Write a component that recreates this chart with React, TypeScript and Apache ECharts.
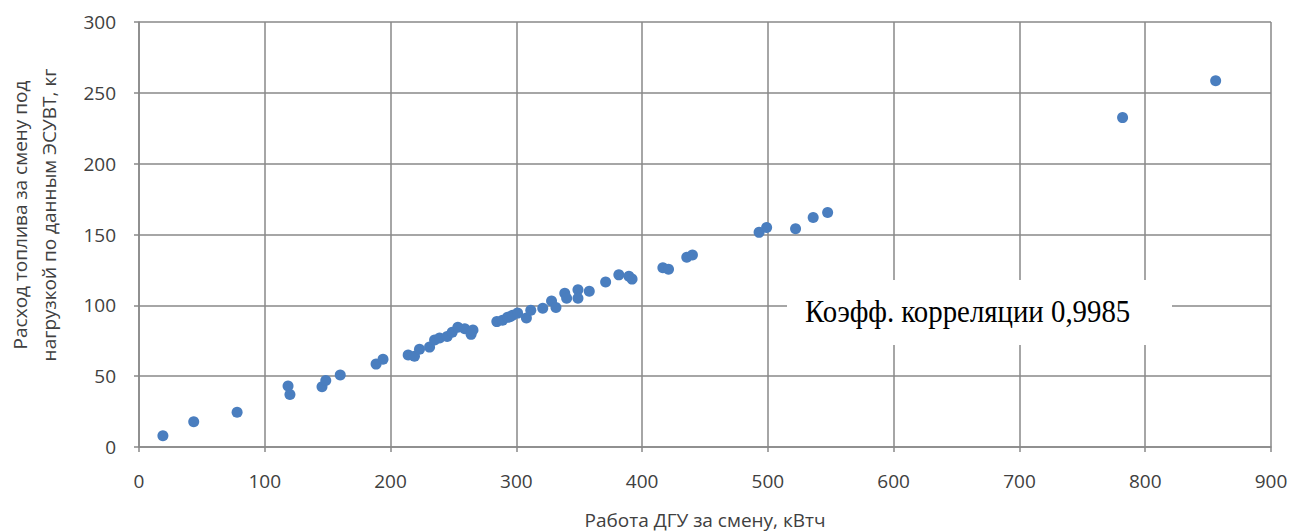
import React, { useEffect, useRef } from "react";
import * as echarts from "echarts";

const workKWh: number[] = [
  19, 43.5, 78, 118.5, 120, 145.5, 148.5, 160, 188.5, 194,
  214, 219, 223, 231, 235, 239, 245, 249, 253.5, 259,
  264, 265.5, 284.5, 289, 293, 295, 297, 301, 308, 311.5,
  321, 328, 331.5, 338.5, 340, 349, 349, 358, 371, 381.5,
  389.5, 392, 416.5, 421, 435.5, 440, 493, 499, 522, 536,
  547.5, 782, 856,
];
const fuelKg: number[] = [
  8, 17.8, 24.5, 43, 37, 42.5, 47, 50.8, 58.5, 62,
  65, 64, 69, 70.5, 75.5, 77, 78, 81, 84.5, 83.5,
  79.5, 82.5, 88.5, 89.5, 91.5, 92, 93, 94.5, 91, 96.5,
  98, 103, 98.5, 108.5, 105, 111, 105, 110, 116.5, 121.5,
  120.5, 118.5, 126.5, 125.5, 134, 135.5, 151.5, 155, 154, 162,
  165.5, 232.5, 258.5,
];

const xTitle = "Работа ДГУ за смену, кВтч";
const yTitle = "Расход топлива за смену под\nнагрузкой по данным ЭСУВТ, кг";
const note = "Коэфф. корреляции 0,9985";

export default function App() {
  const ref = useRef<HTMLDivElement>(null);
  useEffect(() => {
    if (!ref.current) return;
    const chart = echarts.init(ref.current, undefined, { renderer: "svg" });
    const axisFont = "'Open Sans', sans-serif";
    const gray = "#898989";
    chart.setOption({
      animation: false,
      backgroundColor: "#ffffff",
      grid: { left: 139, top: 22, right: 22, bottom: 84, containLabel: false, outerBoundsMode: "none" },
      xAxis: {
        type: "value",
        min: 0,
        max: 900,
        interval: 100,
        name: xTitle,
        nameLocation: "middle",
        nameGap: 63,
        nameTextStyle: { fontFamily: axisFont, fontSize: 19, color: "#404040" },
        axisLine: { show: true, lineStyle: { color: gray, width: 1.5 } },
        axisTick: { show: true, length: 5, lineStyle: { color: gray, width: 1.5 } },
        axisLabel: { margin: 24, fontFamily: axisFont, fontSize: 19, color: "#404040" },
        splitLine: { show: true, lineStyle: { color: gray, width: 1.5 } },
      },
      yAxis: {
        type: "value",
        min: 0,
        max: 300,
        interval: 50,
        axisLine: { show: true, lineStyle: { color: gray, width: 1.5 } },
        axisTick: { show: true, length: 5, lineStyle: { color: gray, width: 1.5 } },
        axisLabel: { margin: 23, fontFamily: axisFont, fontSize: 19, color: "#404040" },
        splitLine: { show: true, lineStyle: { color: gray, width: 1.5 } },
      },
      series: [
        {
          type: "scatter",
          data: workKWh.map((x, i) => [x, fuelKg[i]]),
          symbol: "circle",
          symbolSize: 11,
          itemStyle: { color: "#4A7EBF", opacity: 1 },
          z: 3,
        },
      ],
      graphic: [
        {
          type: "text",
          x: 34,
          y: 215,
          rotation: Math.PI / 2,
          style: {
            text: yTitle,
            fontFamily: axisFont,
            fontSize: 19,
            lineHeight: 29,
            fill: "#404040",
            align: "center",
            verticalAlign: "middle",
          },
        },
        {
          type: "rect",
          shape: { x: 787, y: 280, width: 385, height: 65 },
          style: { fill: "#ffffff" },
          z: 10,
        },
        {
          type: "text",
          x: 805,
          y: 311,
          scaleX: 0.93,
          style: {
            text: note,
            fontFamily: "'Liberation Serif', 'Times New Roman', serif",
            fontSize: 31,
            fill: "#000000",
            verticalAlign: "middle",
          },
          z: 11,
        },
      ],
    });
    return () => chart.dispose();
  }, []);
  return (
    <div
      ref={ref}
      style={{ position: "fixed", left: 0, top: 0, width: 1293, height: 531 }}
    />
  );
}
